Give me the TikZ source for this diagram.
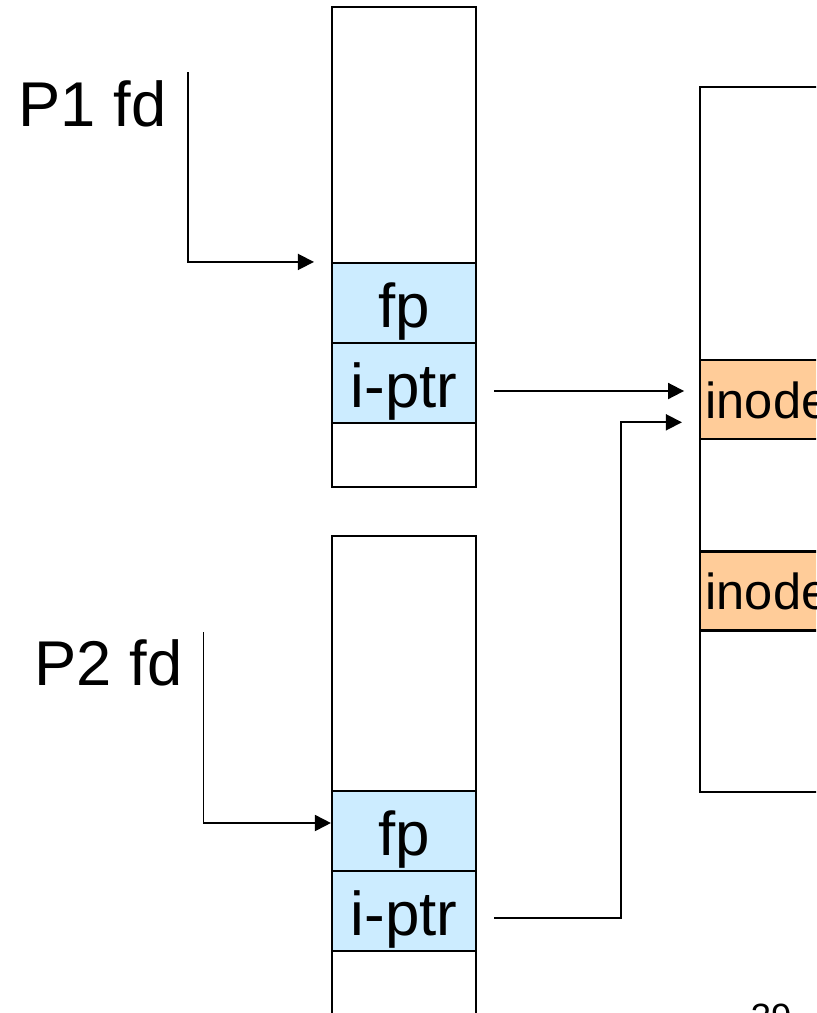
\documentclass[tikz,border=0pt]{standalone}
\usepackage{fontspec}
\setmainfont{Liberation Sans}
\usetikzlibrary{arrows.meta}
\usetikzlibrary{positioning}
\definecolor{fpblue}{HTML}{CCECFF}
\definecolor{inodeorange}{HTML}{FFCC99}
\tikzset{box/.style={draw,line width=1.5pt,inner sep=0pt},
         cell/.style={box,fill=fpblue,minimum width=3.6cm,minimum height=2cm,
                      text height=35pt,text depth=0pt,font=\fontsize{44}{50}\selectfont},
         inoderow/.style={box,fill=inodeorange,minimum height=1.975cm,inner xsep=4pt,
                      text width=5cm-8pt,align=left,text height=27pt,text depth=0pt,
                      font=\fontsize{36}{40}\selectfont},
         fdtext/.style={anchor=base west,inner sep=0pt,font=\fontsize{45}{50}\selectfont},
         ptr/.style={-{Triangle[length=4mm,width=4mm]},line width=1.3pt},
         }

\begin{document}
\begin{tikzpicture}[x=0.025cm,y=-0.025cm]
\useasboundingbox (0,0) rectangle (816,1013);
\clip (0,0) rectangle (816,1013);

% process 1 table
\node[box,minimum width=3.6cm,minimum height=12cm] (tab1) at (404,247) {};
\node[cell] (fp1) at (404,303) {fp};
\node[cell] (iptr1) at (404,383) {i-ptr};

% process 2 table
\node[box,minimum width=3.6cm,minimum height=14.1cm] (tab2) at (404,818) {};
\node[cell] (fp2) at (404,831) {fp};
\node[cell] (iptr2) at (404,911) {i-ptr};

% inode table
\node[box,minimum width=5cm,minimum height=17.6cm] (itab) at (800,439.5) {};
\node[inoderow] (inode1) at (800,399.5) {inode};
\node[inoderow] (inode2) at (800,591) {inode};

\node[fdtext] (p1) at (18.5,126.7) {P1 fd};
\node[fdtext] (p2) at (34.5,685) {P2 fd};
\coordinate (p1top) at (188,72);
\coordinate (p2top) at (203.5,632);

\draw[ptr] (p1top) |- ([xshift=-4.25mm]fp1.north west);
\draw[ptr] (p2top) |- ([yshift=2mm]fp2.west);

\coordinate (out1) at ([xshift=4.25mm,yshift=-2mm]iptr1.east);
\draw[ptr] (out1) -- ++(190,0);
\coordinate (out2) at ([xshift=4.25mm,yshift=-1.75mm]iptr2.east);
\coordinate (in2) at ([xshift=-4.25mm,yshift=-5.7mm]inode1.west);
\draw[ptr] (out2) -- ++(127,0) |- (in2);

\node[anchor=base west,inner sep=0pt,font=\fontsize{26}{30}\selectfont] (page) at (750.5,1029) {39};
\end{tikzpicture}
\end{document}
